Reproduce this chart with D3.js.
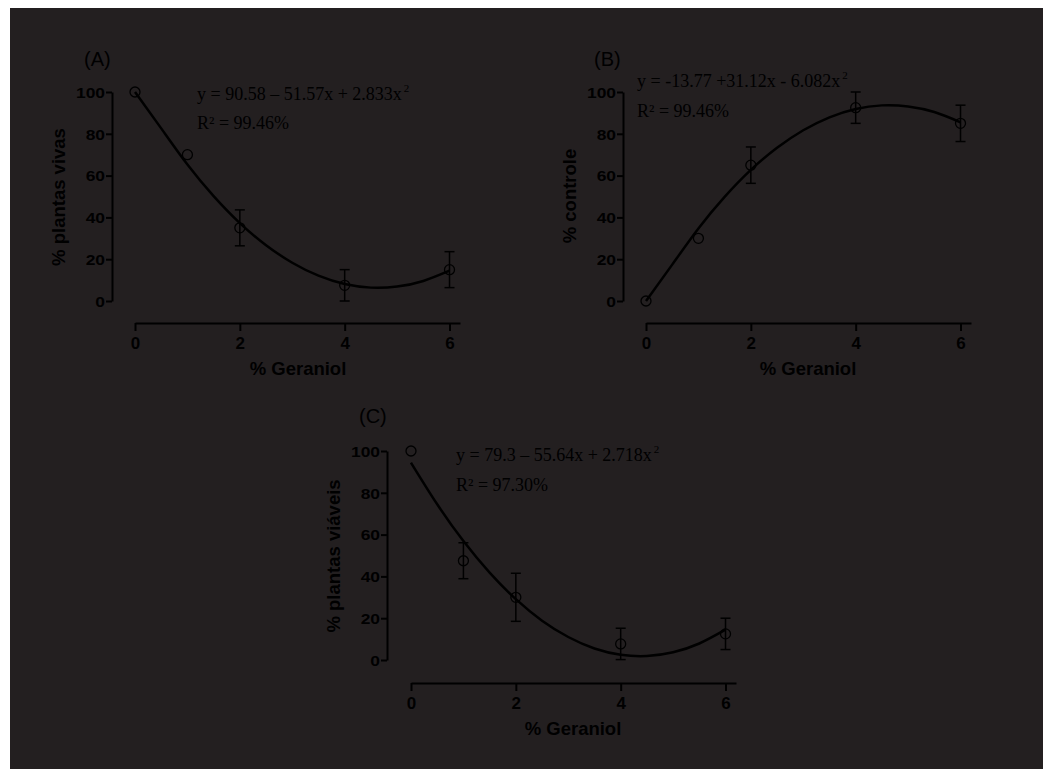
<!DOCTYPE html>
<html><head><meta charset="utf-8">
<script src="https://cdn.jsdelivr.net/npm/d3@7"></script>
<style>body{margin:0;background:#fff;} svg{display:block}</style>
</head><body>
<svg id="c" width="1043" height="769"></svg>
<script>
// ---- data ----
const doses = [0, 1, 2, 4, 6];
const yTicks = [0, 20, 40, 60, 80, 100];
const xTicks = [0, 2, 4, 6];
const valuesA = [100, 70, 35, 7.5, 15];
const errorsA = [0, 0, 8.6, 7.5, 8.6];
const valuesB = [0, 30, 65, 92.5, 85];
const errorsB = [0, 0, 8.7, 7.5, 8.7];
const valuesC = [100, 47.5, 30, 7.7, 12.5];
const errorsC = [0, 8.6, 11.5, 7.5, 7.5];
// fitted curves
const curveX = [0, 0.5, 1, 1.5, 2, 2.5, 3, 3.5, 4, 4.5, 5, 5.5, 6];
const curveA = [100, 82.6, 65.3, 50.2, 37.3, 26.7, 18.3, 12.1, 8.1, 6.4, 6.9, 9.6, 14.5];
const curveB = [0, 17.4, 34.7, 49.8, 62.7, 73.3, 81.7, 87.9, 91.9, 93.6, 93.1, 90.4, 85.5];
const curveC = [94.4, 74.5, 56.9, 41.8, 29.1, 18.8, 11.0, 5.5, 2.5, 1.9, 3.7, 7.9, 14.5];
const yLabels = ["% plantas vivas", "% controle", "% plantas viáveis"];
const xLabel = "% Geraniol";
const panelTags = ["(A)", "(B)", "(C)"];
const eqMain = ["y = 90.58 – 51.57x + 2.833x", "y = -13.77 +31.12x - 6.082x", "y = 79.3 – 55.64x + 2.718x"];
const eqR2 = ["R² = 99.46%", "R² = 99.46%", "R² = 97.30%"];

const BG = "#231f20", INK = "#000";
const svg = d3.select("#c");
svg.append("rect").attr("x", 10).attr("y", 8).attr("width", 1033).attr("height", 761).attr("fill", BG);

const layouts = [
  {ax:112, yTop:92, yBot:301, x0:135, xEnd:460, xAxisY:323, ylab:[58,197], xlab:[298,375], tag:[84,66], eq:[197,100], r2:[197,129]},
  {ax:623, yTop:92, yBot:301, x0:646, xEnd:971, xAxisY:323, ylab:[569,196], xlab:[808,375], tag:[594,66], eq:[637,87], r2:[637,117]},
  {ax:387, yTop:451, yBot:660, x0:411, xEnd:736, xAxisY:683, ylab:[333,556], xlab:[573,735], tag:[359,423], eq:[456,461], r2:[456,491]}
];
const series = [
  {v:valuesA, e:errorsA, c:curveA},
  {v:valuesB, e:errorsB, c:curveB},
  {v:valuesC, e:errorsC, c:curveC}
];

layouts.forEach((L, i) => {
  const s = series[i];
  const xs = d3.scaleLinear().domain([0, 6.2]).range([L.x0, L.xEnd]);
  const ys = d3.scaleLinear().domain([0, 100]).range([L.yBot, L.yTop]);
  const g = svg.append("g");

  // y axis
  const ya = g.append("g").attr("transform", `translate(${L.ax},0)`)
    .call(d3.axisLeft(ys).tickValues(yTicks).tickFormat(d3.format("d")).tickSize(6).tickSizeOuter(0));
  ya.select(".domain").attr("stroke", INK).attr("stroke-width", 2);
  ya.selectAll(".tick line").attr("stroke", INK).attr("stroke-width", 2);
  ya.selectAll(".tick text").attr("x", -7 / 1.2).attr("dy", "0.36em")
    .attr("transform", "scale(1.2,1)")
    .attr("fill", INK).style("font-family", "Liberation Sans, Arial, sans-serif")
    .style("font-size", "14.5px").style("font-weight", "bold");

  // x axis
  const xa = g.append("g").attr("transform", `translate(0,${L.xAxisY})`)
    .call(d3.axisBottom(xs).tickValues(xTicks).tickFormat(d3.format("d")).tickSize(8).tickSizeOuter(0));
  xa.select(".domain").attr("stroke", INK).attr("stroke-width", 2);
  xa.selectAll(".tick line").attr("stroke", INK).attr("stroke-width", 2);
  xa.selectAll(".tick text").attr("y", 26).attr("dy", 0)
    .attr("fill", INK).style("font-family", "Liberation Sans, Arial, sans-serif")
    .style("font-size", "17px").style("font-weight", "bold");

  // axis labels
  g.append("text").attr("transform", `translate(${L.ylab[0]},${L.ylab[1]}) rotate(-90)`)
    .attr("text-anchor", "middle").attr("dominant-baseline", "central")
    .attr("fill", INK).style("font-family", "Liberation Sans, Arial, sans-serif")
    .style("font-size", "18.5px").style("font-weight", "bold").text(yLabels[i]);
  g.append("text").attr("x", L.xlab[0]).attr("y", L.xlab[1]).attr("text-anchor", "middle")
    .attr("fill", INK).style("font-family", "Liberation Sans, Arial, sans-serif")
    .style("font-size", "18.5px").style("font-weight", "bold").text(xLabel);

  // panel tag
  g.append("text").attr("x", L.tag[0]).attr("y", L.tag[1]).attr("fill", INK)
    .style("font-family", "Liberation Sans, Arial, sans-serif").style("font-size", "20px").text(panelTags[i]);

  // equations
  const eq = g.append("text").attr("x", L.eq[0]).attr("y", L.eq[1]).attr("fill", INK)
    .style("font-family", "Liberation Serif, Times New Roman, serif").style("font-size", "18px");
  eq.append("tspan").text(eqMain[i]);
  eq.append("tspan").attr("dy", -8).attr("dx", 2).style("font-size", "11px").text("2");
  g.append("text").attr("x", L.r2[0]).attr("y", L.r2[1]).attr("fill", INK)
    .style("font-family", "Liberation Serif, Times New Roman, serif").style("font-size", "18px").text(eqR2[i]);

  // error bars
  const pts = doses.map((d, k) => ({x: d, v: s.v[k], e: s.e[k]}));
  const eb = g.append("g").attr("stroke", INK).attr("stroke-width", 1.5);
  pts.filter(p => p.e > 0).forEach(p => {
    const cx = xs(p.x);
    eb.append("line").attr("x1", cx).attr("x2", cx).attr("y1", ys(p.v - p.e)).attr("y2", ys(p.v + p.e));
    eb.append("line").attr("x1", cx - 5).attr("x2", cx + 5).attr("y1", ys(p.v - p.e)).attr("y2", ys(p.v - p.e));
    eb.append("line").attr("x1", cx - 5).attr("x2", cx + 5).attr("y1", ys(p.v + p.e)).attr("y2", ys(p.v + p.e));
  });

  // fitted curve
  const line = d3.line().x(d => xs(d[0])).y(d => ys(d[1])).curve(d3.curveNatural);
  g.append("path").datum(curveX.map((x, k) => [x, s.c[k]])).attr("d", line)
    .attr("fill", "none").attr("stroke", INK).attr("stroke-width", 2.5);

  // points
  g.append("g").selectAll("circle").data(pts).join("circle")
    .attr("cx", p => xs(p.x)).attr("cy", p => ys(p.v)).attr("r", 5)
    .attr("fill", "none").attr("stroke", INK).attr("stroke-width", 1.3);
});
</script>
</body></html>
